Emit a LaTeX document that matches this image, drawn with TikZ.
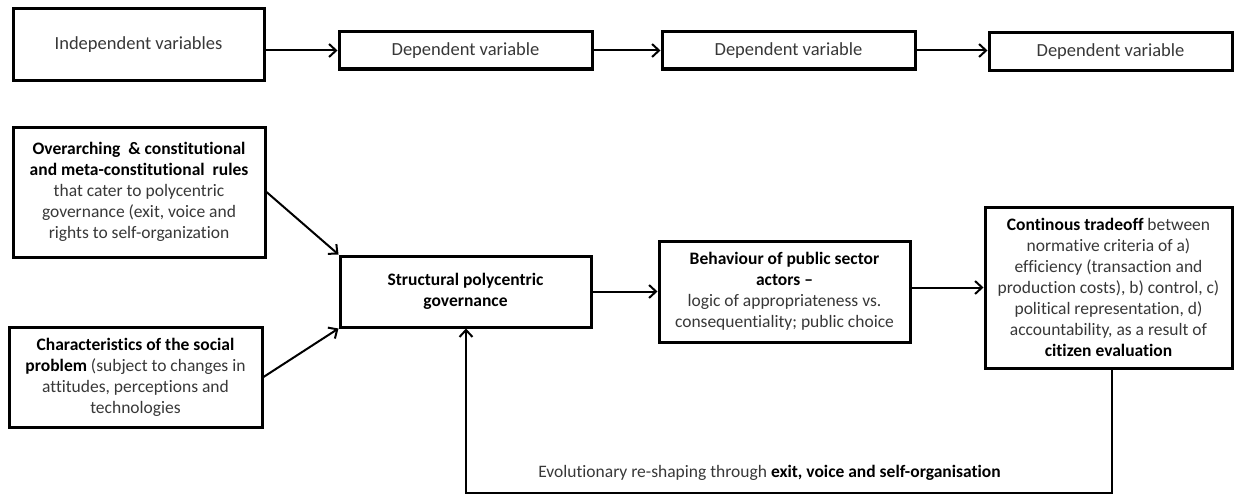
\documentclass[tikz,border=0pt]{standalone}
\usepackage{fontspec}
\setmainfont[Ligatures=NoCommon]{Carlito}
\usetikzlibrary{arrows.meta}
\definecolor{txtgray}{gray}{0.22}
\newcommand\boldpart[1]{\textcolor{black}{\bfseries #1}}
\tikzset{
  box/.style={draw=black, line width=3pt, inner sep=0pt, align=center,
    font=\fontsize{17.5}{21}\selectfont, text=txtgray},
  topbox/.style={box, font=\fontsize{18.5}{21}\selectfont},
  arr/.style={line width=2pt, -{Straight Barb[length=7pt,width=13pt]}},
  lbl/.style={inner sep=0pt, font=\fontsize{17.5}{21}\selectfont, text=txtgray}
}
\begin{document}
\begin{tikzpicture}[x=1pt,y=-1pt]
\useasboundingbox[fill=white] (0,0) rectangle (1236,495);
% top row
\node[topbox, minimum width=251pt, minimum height=71pt] (indep) at (138.5,44.5) {Independent variables};
\node[topbox, minimum width=253pt, minimum height=37pt] (dep1) at (465.5,50.5) {Dependent variable};
\node[topbox, minimum width=253pt, minimum height=37pt] (dep2) at (788.5,50.5) {Dependent variable};
\node[topbox, minimum width=243pt, minimum height=37pt] (dep3) at (1110.5,51.5) {Dependent variable};
\draw[arr] (indep.east |- dep1.west) -- (dep1.west);
\draw[arr] (dep1.east) -- (dep2.west);
\draw[arr] (dep2.east) -- (dep2.east -| dep3.west);
% main diagram
\node[box, minimum width=252pt, minimum height=130pt] (over) at (139,192)
  {\boldpart{Overarching \ \& constitutional}\\ \boldpart{and meta-constitutional \ rules}\\ that cater to polycentric\\ governance (exit, voice and\\ rights to self-organization};
\node[box, minimum width=253pt, minimum height=100pt] (chars) at (135.5,377)
  {\boldpart{Characteristics of the social}\\ \boldpart{problem} (subject to changes in\\ attitudes, perceptions and\\ technologies};
\node[box, minimum width=251pt, minimum height=71pt] (struct) at (465.5,291.5)
  {\boldpart{Structural polycentric}\\ \boldpart{governance}};
\node[box, minimum width=251pt, minimum height=101pt] (behav) at (784.5,291.5)
  {\boldpart{Behaviour of public sector}\\ \boldpart{actors --}\\ logic of appropriateness vs.\\ consequentiality; public choice};
\node[box, minimum width=247pt, minimum height=161pt] (trade) at (1108.5,287.5)
  {\boldpart{Continous tradeoff} between\\ normative criteria of a)\\ efficiency (transaction and\\ production costs), b) control, c)\\ political representation, d)\\ accountability, as a result of\\ \boldpart{citizen evaluation}};
\draw[arr] (over.east) -- (struct.north west);
\draw[arr] (chars.east) -- (struct.south west);
\draw[arr] (struct.east) -- (behav.west);
\draw[arr] (trade.west -| behav.east) -- (trade.west);
% feedback loop
\coordinate (fbr) at (1112,493);
\coordinate (fbl) at (466,493);
\draw[arr] (trade.south -| fbr) -- (fbr) -- (fbl) -- (fbl |- struct.south);
\node[lbl] (fblabel) at (769.5,473) {Evolutionary re-shaping through \boldpart{exit, voice and self-organisation}};
\end{tikzpicture}
\end{document}
